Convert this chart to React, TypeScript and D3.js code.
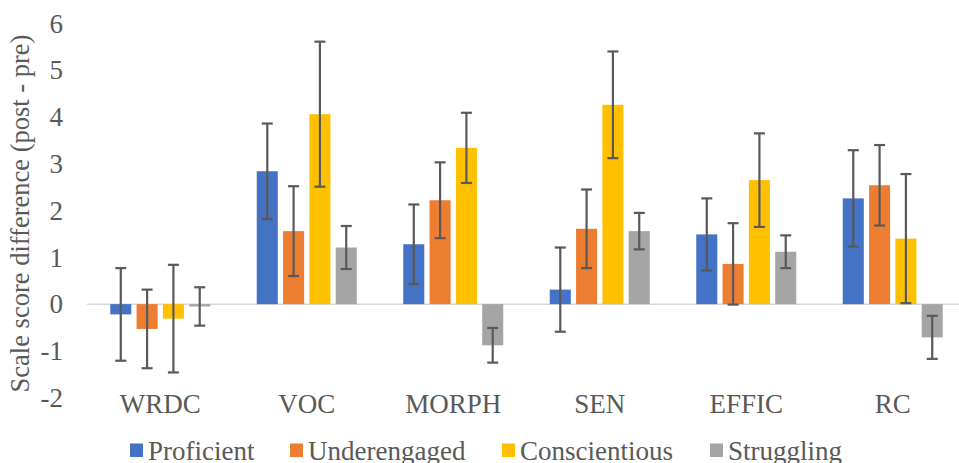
import * as d3 from "d3";
import { useEffect, useRef } from "react";

const CATEGORIES = ["WRDC", "VOC", "MORPH", "SEN", "EFFIC", "RC"];
const SERIES = ["Proficient", "Underengaged", "Conscientious", "Struggling"];

// mean score difference per category, one array per group
const PROFICIENT    = [-0.22, 2.84, 1.28, 0.31, 1.49, 2.26];
const UNDERENGAGED  = [-0.53, 1.56, 2.22, 1.61, 0.86, 2.54];
const CONSCIENTIOUS = [-0.31, 4.06, 3.34, 4.26, 2.65, 1.40];
const STRUGGLING    = [-0.05, 1.21, -0.88, 1.56, 1.12, -0.71];

// error bar half-widths
const PROFICIENT_ERR    = [0.99, 1.02, 0.85, 0.90, 0.77, 1.03];
const UNDERENGAGED_ERR  = [0.84, 0.96, 0.81, 0.84, 0.87, 0.86];
const CONSCIENTIOUS_ERR = [1.15, 1.55, 0.75, 1.14, 1.00, 1.38];
const STRUGGLING_ERR    = [0.41, 0.46, 0.37, 0.39, 0.35, 0.46];

const Y_TICKS = [-2, -1, 0, 1, 2, 3, 4, 5, 6];

const COLORS = ["#4472C4", "#ED7D31", "#FFC000", "#A5A5A5"];
const FONT = "'Liberation Serif', 'Times New Roman', serif";
const TEXT = "#595959";

const W = 959;
const H = 463;

export default function App() {
  const svgRef = useRef<SVGSVGElement>(null);

  useEffect(() => {
    const svg = d3.select(svgRef.current);
    svg.selectAll("*").remove();

    const means = [PROFICIENT, UNDERENGAGED, CONSCIENTIOUS, STRUGGLING];
    const errs  = [PROFICIENT_ERR, UNDERENGAGED_ERR, CONSCIENTIOUS_ERR, STRUGGLING_ERR];

    const y = d3.scaleLinear().domain([-2, 6]).range([397.7, 23.4]);
    const x0 = d3.scaleBand<string>().domain(CATEGORIES).range([87, 966]);
    const x1 = d3.scaleBand<string>().domain(SERIES).range([0, 100]).paddingInner(0.2);
    const groupOffset = (x0.bandwidth() - 100) / 2;

    // ── Zero line ──
    svg.append("line")
      .attr("x1", 87).attr("x2", W)
      .attr("y1", y(0)).attr("y2", y(0))
      .attr("stroke", "#D9D9D9")
      .attr("stroke-width", 1.5);

    // ── Bars ──
    const groups = svg.selectAll(".grp")
      .data(CATEGORIES)
      .enter()
      .append("g")
      .attr("transform", (d) => `translate(${(x0(d) ?? 0) + groupOffset},0)`);

    groups.each(function (cat, ci) {
      const g = d3.select(this);
      SERIES.forEach((s, si) => {
        const v = means[si][ci];
        g.append("rect")
          .attr("x", x1(s) ?? 0)
          .attr("y", Math.min(y(v), y(0)))
          .attr("width", x1.bandwidth())
          .attr("height", Math.abs(y(v) - y(0)))
          .attr("fill", COLORS[si]);
      });
      // error bars on top
      SERIES.forEach((s, si) => {
        const v = means[si][ci];
        const e = errs[si][ci];
        const cx = (x1(s) ?? 0) + x1.bandwidth() / 2;
        const eb = g.append("g")
          .attr("stroke", "#595959")
          .attr("stroke-width", 2.2);
        eb.append("line")
          .attr("x1", cx).attr("x2", cx)
          .attr("y1", y(v + e)).attr("y2", y(v - e));
        [v + e, v - e].forEach((yy) => {
          eb.append("line")
            .attr("x1", cx - 5.5).attr("x2", cx + 5.5)
            .attr("y1", y(yy)).attr("y2", y(yy));
        });
      });
    });

    // ── Y tick labels ──
    svg.selectAll(".ytick")
      .data(Y_TICKS)
      .enter()
      .append("text")
      .attr("x", 63)
      .attr("y", (d) => y(d))
      .attr("dy", "0.34em")
      .attr("text-anchor", "end")
      .style("font-family", FONT)
      .style("font-size", "27px")
      .style("fill", TEXT)
      .text((d) => d);

    // ── Axis title ──
    svg.append("text")
      .attr("transform", `translate(29,213.5) rotate(-90)`)
      .attr("text-anchor", "middle")
      .style("font-family", FONT)
      .style("font-size", "26.5px")
      .style("fill", TEXT)
      .text("Scale score difference (post - pre)");

    // ── Category labels ──
    svg.selectAll(".cat")
      .data(CATEGORIES)
      .enter()
      .append("text")
      .attr("x", (d) => (x0(d) ?? 0) + x0.bandwidth() / 2)
      .attr("y", 413)
      .attr("text-anchor", "middle")
      .style("font-family", FONT)
      .style("font-size", "27px")
      .style("fill", TEXT)
      .text((d) => d);

    // ── Legend ──
    const legendX = [130, 290, 502, 710];
    SERIES.forEach((s, i) => {
      svg.append("rect")
        .attr("x", legendX[i])
        .attr("y", 443.5)
        .attr("width", 13)
        .attr("height", 13.5)
        .attr("fill", COLORS[i]);
      svg.append("text")
        .attr("x", legendX[i] + 18)
        .attr("y", 459.5)
        .style("font-family", FONT)
        .style("font-size", "27px")
        .style("fill", TEXT)
        .text(s);
    });
  }, []);

  return (
    <svg
      ref={svgRef}
      width={W}
      height={H}
      style={{ position: "absolute", left: 0, top: 0, background: "#fff" }}
    />
  );
}
